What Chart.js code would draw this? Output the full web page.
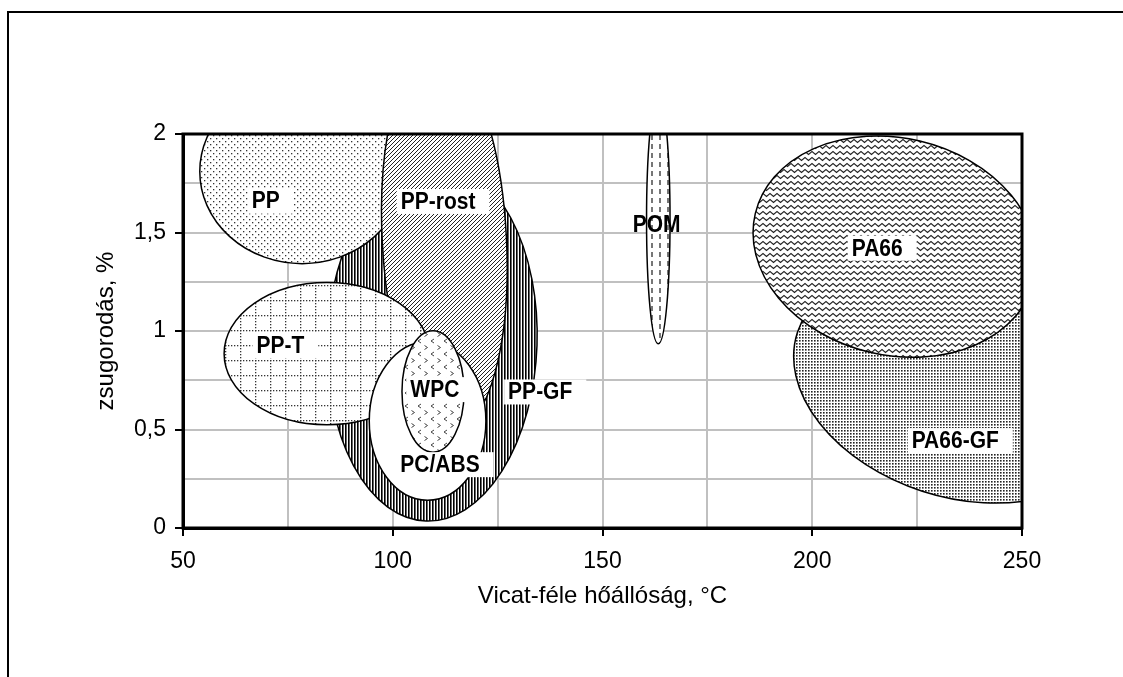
<!DOCTYPE html>
<html>
<head>
<meta charset="utf-8">
<script src="https://cdn.jsdelivr.net/npm/chart.js@4.4.1/dist/chart.umd.min.js"></script>
<style>
  html, body { margin: 0; padding: 0; background: #fff; }
  #wrap { width: 1123px; height: 677px; }
</style>
</head>
<body>
<div id="wrap"><canvas id="grafico" width="1123" height="677"></canvas></div>
<script>
// Anyagok rajzolási sorrendben (alulról felfelé)
const anyagok = ["PP-GF", "PP", "PP-rost", "PP-T", "PC/ABS", "WPC", "POM", "PA66-GF", "PA66"];
// Tartomány közepe: Vicat hőállóság (°C) és zsugorodás (%)
const vicatKozep = [109.4, 78.4, 112.3, 84.3, 108.3, 109.6, 163.3, 234.5, 219.7];
const zsugKozep = [0.945, 1.81, 1.463, 0.885, 0.543, 0.693, 1.565, 0.729, 1.428];
// Tartomány fél-szélessége a két tengely mentén
const vicatFel = [25.0, 24.4, 14.8, 24.5, 13.9, 7.4, 2.8, 40, 34.2];
const zsugFel = [0.91, 0.468, 0.966, 0.361, 0.402, 0.308, 0.63, 0.57, 0.551];
// Dőlésszög fokban
const dontes = [2, 0, -3, 0, 0, 0, 0, 18, 13.3];
// Feliratok helye (adatkoordinátában)
const feliratVicat = [127.5, 66.4, 101.9, 67.5, 101.8, 104.2, 157.2, 223.7, 209.4];
const feliratZsug = [0.693, 1.662, 1.66, 0.929, 0.324, 0.705, 1.54, 0.446, 1.423];
// Tengelyek
const xTickek = [50, 100, 150, 200, 250];
const yTickek = [0, 0.5, 1, 1.5, 2];

const BETU = "'Liberation Sans', Arial, sans-serif";
const kereteNelkul = ["POM"];

// Mintázat csempe készítése
function csempe(w, h, rajzol) {
  const c = document.createElement("canvas");
  c.width = w;
  c.height = h;
  const g = c.getContext("2d");
  g.fillStyle = "#fff";
  g.fillRect(0, 0, w, h);
  rajzol(g);
  return c;
}

const csempek = {
  "PP": csempe(6, 6, (g) => {
    g.fillStyle = "#333";
    g.fillRect(0, 0, 1.3, 1.3);
    g.fillRect(3, 3, 1.3, 1.3);
  }),
  "PP-rost": csempe(4, 4, (g) => {
    g.strokeStyle = "#222";
    g.lineWidth = 1;
    g.beginPath();
    g.moveTo(-1, 5); g.lineTo(5, -1);
    g.moveTo(-1, 1); g.lineTo(1, -1);
    g.moveTo(3, 5); g.lineTo(5, 3);
    g.stroke();
  }),
  "PP-GF": csempe(3, 3, (g) => {
    g.fillStyle = "#000";
    g.fillRect(0, 0, 1.6, 3);
  }),
  "PP-T": csempe(15, 15, (g) => {
    g.fillStyle = "#333";
    for (let i = 0; i < 15; i += 3) {
      g.fillRect(i, 0, 1.3, 1.3);
      g.fillRect(0, i, 1.3, 1.3);
    }
  }),
  "PC/ABS": csempe(2, 2, () => {}),
  "WPC": csempe(13, 13, (g) => {
    g.strokeStyle = "#444";
    g.lineWidth = 1;
    g.beginPath();
    g.moveTo(5, 1); g.lineTo(2, 3); g.lineTo(5, 5);
    g.moveTo(8.5, 7.5); g.lineTo(11.5, 9.5); g.lineTo(8.5, 11.5);
    g.stroke();
  }),
  "POM": csempe(8, 9, (g) => {
    g.fillStyle = "#777";
    g.fillRect(3, 0, 2, 5);
  }),
  "PA66-GF": csempe(3, 3, (g) => {
    g.fillStyle = "#222";
    g.fillRect(1, 1, 1.6, 1.6);
  }),
  "PA66": csempe(7, 6, (g) => {
    g.strokeStyle = "#222";
    g.lineWidth = 1.1;
    g.beginPath();
    g.moveTo(-3.5, 4.5); g.lineTo(0, 1.5); g.lineTo(3.5, 4.5); g.lineTo(7, 1.5); g.lineTo(10.5, 4.5);
    g.stroke();
  })
};

// Ellipszisek, keret és feliratok
const tartomanyPlugin = {
  id: "tartomanyok",
  beforeDraw(chart) {
    const ctx = chart.ctx;
    ctx.save();
    ctx.fillStyle = "#fff";
    ctx.fillRect(0, 0, chart.width, chart.height);
    ctx.strokeStyle = "#000";
    ctx.lineWidth = 2;
    ctx.strokeRect(8, 12, 1300, 1000);
    ctx.restore();
  },
  beforeDatasetsDraw(chart) {
    const { ctx, chartArea: a, scales: { x, y } } = chart;
    ctx.save();
    ctx.beginPath();
    ctx.rect(a.left, a.top, a.right - a.left, a.bottom - a.top);
    ctx.clip();
    anyagok.forEach((nev, i) => {
      const cx = x.getPixelForValue(vicatKozep[i]);
      const cy = y.getPixelForValue(zsugKozep[i]);
      const rx = Math.abs(x.getPixelForValue(vicatKozep[i] + vicatFel[i]) - cx);
      const ry = Math.abs(y.getPixelForValue(zsugKozep[i] + zsugFel[i]) - cy);
      ctx.beginPath();
      ctx.ellipse(cx, cy, rx, ry, dontes[i] * Math.PI / 180, 0, 2 * Math.PI);
      ctx.fillStyle = ctx.createPattern(csempek[nev], "repeat");
      ctx.fill();
      ctx.lineWidth = 1.5;
      ctx.strokeStyle = "#000";
      ctx.stroke();
    });
    ctx.restore();
  },
  afterDatasetsDraw(chart) {
    const { ctx, chartArea: a, scales: { x, y } } = chart;
    ctx.save();
    ctx.strokeStyle = "#000";
    ctx.lineWidth = 3;
    ctx.strokeRect(a.left, a.top, a.right - a.left, a.bottom - a.top);

    ctx.font = "bold 21px " + BETU;
    ctx.textBaseline = "middle";
    ctx.textAlign = "left";
    anyagok.forEach((nev, i) => {
      const px = x.getPixelForValue(feliratVicat[i]);
      const py = y.getPixelForValue(feliratZsug[i]);
      const w = ctx.measureText(nev).width;
      if (!kereteNelkul.includes(nev)) {
        ctx.fillStyle = "#fff";
        ctx.fillRect(px - 4, py - 12, w + 18, 25);
      }
      ctx.save();
      ctx.translate(px, py + 1);
      ctx.scale(1, 1.18);
      ctx.fillStyle = "#000";
      ctx.fillText(nev, 0, 0);
      ctx.restore();
    });
    ctx.restore();
  }
};

function kozel(v, lista) {
  return lista.some((t) => Math.abs(t - v) < 1e-9);
}

const adatkeszletek = anyagok.map((nev, i) => ({
  label: nev,
  data: [{ x: vicatKozep[i], y: zsugKozep[i] }],
  pointRadius: 0,
  pointHoverRadius: 0
}));

new Chart(document.getElementById("grafico").getContext("2d"), {
  type: "scatter",
  data: { datasets: adatkeszletek },
  plugins: [tartomanyPlugin],
  options: {
    responsive: false,
    animation: false,
    events: [],
    layout: { padding: { left: 0, top: 134, right: 101, bottom: 0 } },
    plugins: {
      legend: { display: false },
      tooltip: { enabled: false }
    },
    scales: {
      x: {
        type: "linear",
        min: 50,
        max: 250,
        afterFit: (s) => { s.height = 149; },
        ticks: {
          stepSize: 25,
          autoSkip: false,
          maxRotation: 0,
          color: "#000",
          padding: 12,
          font: { family: BETU, size: 23 },
          callback: (v) => (kozel(v, xTickek) ? String(v) : "")
        },
        grid: {
          color: "#c0c0c0",
          lineWidth: 2,
          tickLength: 8,
          tickWidth: 2,
          tickColor: (c) => (c.tick && kozel(c.tick.value, xTickek) ? "#000" : "rgba(0,0,0,0)")
        },
        border: { color: "#000", width: 3 },
        title: {
          display: true,
          text: "Vicat-féle hőállóság, °C",
          color: "#000",
          font: { family: BETU, size: 24 },
          padding: { top: 0, bottom: 66 }
        }
      },
      y: {
        type: "linear",
        min: 0,
        max: 2,
        afterFit: (s) => { s.width = 183; },
        ticks: {
          stepSize: 0.25,
          autoSkip: false,
          color: "#000",
          padding: 9,
          font: { family: BETU, size: 23 },
          callback: (v) => (kozel(v, yTickek) ? String(v).replace(".", ",") : "")
        },
        grid: {
          color: "#c0c0c0",
          lineWidth: 2,
          tickLength: 8,
          tickWidth: 2,
          tickColor: (c) => (c.tick && kozel(c.tick.value, yTickek) ? "#000" : "rgba(0,0,0,0)")
        },
        border: { color: "#000", width: 3 },
        title: {
          display: true,
          text: "zsugorodás, %",
          color: "#000",
          font: { family: BETU, size: 24 },
          padding: { top: 92, bottom: 0 }
        }
      }
    }
  }
});
</script>
</body>
</html>
